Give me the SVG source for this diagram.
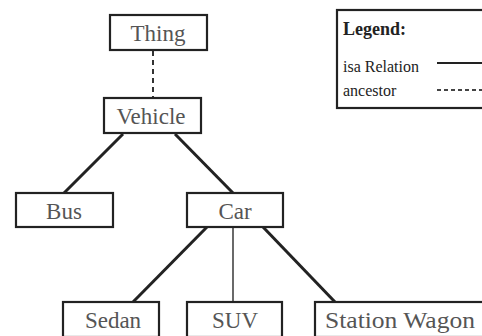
<svg xmlns="http://www.w3.org/2000/svg" width="482" height="336" viewBox="0 0 482 336">
<style>
.box{fill:#fff;stroke:#222;stroke-width:2.2}
.lbl{font-family:"Liberation Serif",serif;font-size:23px;fill:#555;text-anchor:middle}
.leg{font-family:"Liberation Serif",serif;font-size:16px;fill:#222}
.isa{stroke:#222;stroke-width:3;fill:none}
.thin{stroke:#444;stroke-width:1.6;fill:none}
.anc{stroke:#333;stroke-width:2;stroke-dasharray:5 4;fill:none}
</style>
<rect width="482" height="336" fill="#fff"/>
<g id="connectors">
<line class="anc" x1="153" y1="51" x2="153" y2="98"/>
<line class="isa" x1="123" y1="134" x2="64" y2="193"/>
<line class="isa" x1="175" y1="134" x2="233" y2="193"/>
<line class="isa" x1="207" y1="227" x2="133" y2="302"/>
<line class="thin" x1="233" y1="227" x2="233" y2="302"/>
<line class="isa" x1="263" y1="227" x2="335" y2="302"/>
</g>
<g id="thing"><rect class="box" x="110" y="15" width="97" height="35"/><text class="lbl" x="158" y="41">Thing</text></g>
<g id="vehicle"><rect class="box" x="104" y="98" width="97" height="35"/><text class="lbl" x="151" y="124">Vehicle</text></g>
<g id="bus"><rect class="box" x="16" y="193" width="97" height="34"/><text class="lbl" x="64" y="219">Bus</text></g>
<g id="car"><rect class="box" x="187" y="193" width="96" height="34"/><text class="lbl" x="235" y="219">Car</text></g>
<g id="sedan"><rect class="box" x="63" y="302" width="96" height="35"/><text class="lbl" x="113" y="328">Sedan</text></g>
<g id="suv"><rect class="box" x="187" y="302" width="95" height="35"/><text class="lbl" x="235" y="328">SUV</text></g>
<g id="station-wagon"><rect class="box" x="315" y="302" width="175" height="35"/><text class="lbl" x="400" y="328" textLength="150" lengthAdjust="spacingAndGlyphs">Station Wagon</text></g>
<g id="legend">
<rect class="box" x="337" y="10" width="160" height="98"/>
<text class="leg" x="343" y="35" style="font-weight:bold;font-size:18px">Legend:</text>
<text class="leg" x="343" y="72">isa Relation</text>
<line x1="437" y1="63" x2="482" y2="63" stroke="#222" stroke-width="2"/>
<text class="leg" x="343" y="96">ancestor</text>
<line x1="437" y1="90" x2="482" y2="90" stroke="#444" stroke-width="2" stroke-dasharray="4 3"/>
</g>
</svg>
